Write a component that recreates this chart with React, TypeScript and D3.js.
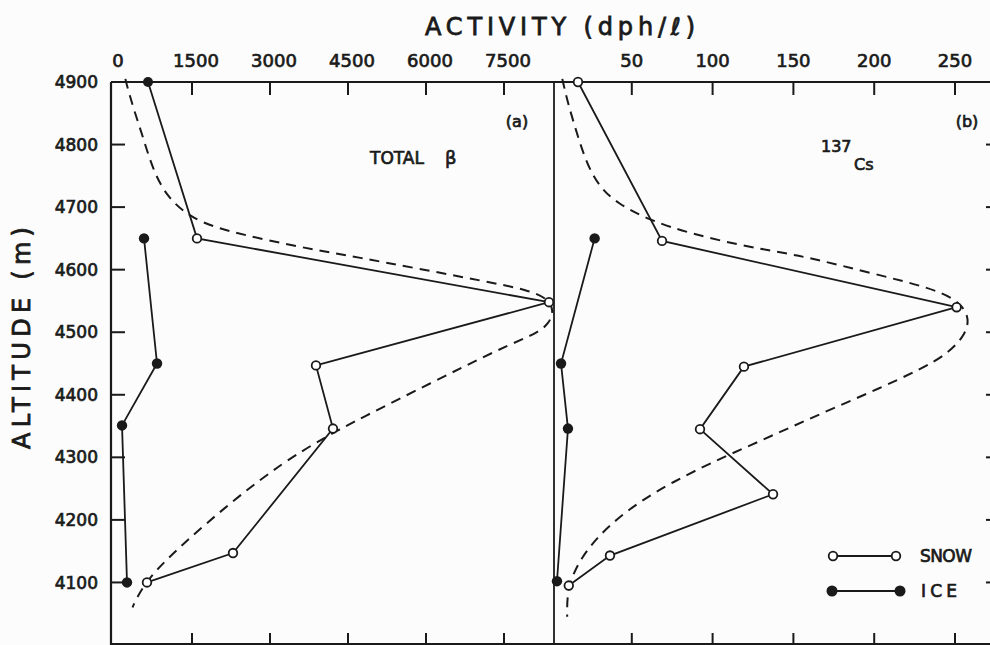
import React from "react";
import { scaleLinear, line, curveBasis } from "d3";

// altitude / activity readings (a) total beta, dph/l
const snowBeta = [
  { alt: 4900, v: 635 },
  { alt: 4650, v: 1577 },
  { alt: 4548, v: 8346 },
  { alt: 4447, v: 3865 },
  { alt: 4346, v: 4192 },
  { alt: 4147, v: 2269 },
  { alt: 4100, v: 615 },
];
const iceBeta = [
  { alt: 4650, v: 558 },
  { alt: 4450, v: 808 },
  { alt: 4351, v: 135 },
  { alt: 4100, v: 231 },
];
const fitBeta = [
  [4905, 200], [4900, 212], [4860, 346], [4812, 538], [4759, 731], [4716, 1000], [4684, 1442],
  [4666, 1962], [4647, 2923], [4631, 3885], [4620, 4654], [4602, 5808], [4582, 7077],
  [4567, 7981], [4553, 8330], [4535, 8440], [4514, 8350], [4498, 8115], [4474, 7404],
  [4418, 6058], [4362, 4712], [4335, 4100], [4292, 3231], [4231, 2269], [4162, 1308],
  [4106, 615], [4063, 346], [4060, 340],
];

// (b) 137Cs
const snowCs = [
  { alt: 4900, v: 16.7 },
  { alt: 4646, v: 68.7 },
  { alt: 4540, v: 251 },
  { alt: 4445, v: 119.4 },
  { alt: 4345, v: 92.2 },
  { alt: 4241, v: 137.4 },
  { alt: 4143, v: 36.5 },
  { alt: 4095, v: 11 },
];
const iceCs = [
  { alt: 4650, v: 27 },
  { alt: 4450, v: 6.2 },
  { alt: 4346, v: 10.5 },
  { alt: 4102, v: 3.7 },
];
const fitCs = [
  [4905, 7], [4900, 7.4], [4866, 10.5], [4818, 16], [4770, 22], [4732, 30], [4706, 41], [4679, 61],
  [4658, 86], [4639, 117], [4626, 146], [4616, 165], [4594, 199], [4572, 233], [4553, 251],
  [4526, 259], [4498, 257], [4466, 246], [4440, 228], [4410, 203], [4380, 176], [4350, 150],
  [4320, 124], [4290, 98], [4260, 75], [4231, 56], [4200, 40], [4170, 28], [4140, 19],
  [4110, 13], [4080, 10], [4050, 10], [4045, 10],
];

const altTicks = [4100, 4200, 4300, 4400, 4500, 4600, 4700, 4800, 4900];
const betaTicks = [0, 1500, 3000, 4500, 6000, 7500];
const csTicks = [50, 100, 150, 200, 250];

const FONT = "'DejaVu Sans', sans-serif";
const INK = "#1a1a1a";

export default function App() {
  const y = scaleLinear().domain([4000, 4900]).range([645, 82]);
  const xL = scaleLinear().domain([0, 7500]).range([115, 505]);
  const xR = scaleLinear().domain([0, 250]).range([551, 955]);
  const left = 111, mid = 554, right = 1000, top = 82, bottom = 645;

  const fitPath = (data, xs) =>
    line().x(d => xs(d[1])).y(d => y(d[0])).curve(curveBasis)(data);
  const dataPath = (data, xs) =>
    line().x(d => xs(d.v)).y(d => y(d.alt))(data);

  const panel = (snow, ice, fit, xs, topFilled) => (
    <g>
      <path d={fitPath(fit, xs)} fill="none" stroke={INK} strokeWidth={2} strokeDasharray="10,7" />
      <path d={dataPath(snow, xs)} fill="none" stroke={INK} strokeWidth={1.8} />
      <path d={dataPath(ice, xs)} fill="none" stroke={INK} strokeWidth={1.8} />
      {snow.map((d, i) => (
        i === 0 && topFilled
          ? <circle key={i} cx={xs(d.v)} cy={y(d.alt)} r={5} fill={INK} />
          : <circle key={i} cx={xs(d.v)} cy={y(d.alt)} r={4.3} fill="white" stroke={INK} strokeWidth={1.8} />
      ))}
      {ice.map((d, i) => (
        <circle key={i} cx={xs(d.v)} cy={y(d.alt)} r={5.2} fill={INK} />
      ))}
    </g>
  );

  const txt = { stroke: INK, strokeWidth: 0.7 };

  return (
    <svg width={990} height={645} style={{ position: "absolute", left: 0, top: 0, background: "#fbfcfb" }}
      fontFamily={FONT} fill={INK}>
      {/* frame */}
      <g stroke={INK} strokeWidth={2.2} fill="none">
        <line x1={left} y1={top} x2={right} y2={top} />
        <line x1={left} y1={top} x2={left} y2={bottom} />
        <line x1={left} y1={bottom - 1} x2={right} y2={bottom - 1} />
        <line x1={mid} y1={top} x2={mid} y2={bottom} strokeWidth={1.8} />
        <line x1={right} y1={top} x2={right} y2={bottom} />
      </g>

      {/* y axis */}
      {altTicks.map(t => (
        <g key={t}>
          <line x1={left} x2={left + 14} y1={y(t)} y2={y(t)} stroke={INK} strokeWidth={2} />
          <line x1={right - 14} x2={right} y1={y(t)} y2={y(t)} stroke={INK} strokeWidth={2} />
          <text x={98} y={y(t)} dy="0.36em" textAnchor="end" fontSize={17} {...txt}>{t}</text>
        </g>
      ))}
      <text transform="translate(30,338) rotate(-90)" textAnchor="middle" fontSize={24}
        textLength={222} lengthAdjust="spacing" stroke={INK} strokeWidth={0.8}>ALTITUDE (m)</text>

      {/* x axes */}
      {betaTicks.map(t => (
        <g key={t}>
          {t > 0 && <line x1={xL(t) - 1} x2={xL(t) - 1} y1={top} y2={top + 13} stroke={INK} strokeWidth={2} />}
          {t > 0 && <line x1={xL(t) - 1} x2={xL(t) - 1} y1={bottom - 12} y2={bottom} stroke={INK} strokeWidth={2} />}
          <text x={xL(t) + 3} y={67} textAnchor="middle" fontSize={18} {...txt}>{t}</text>
        </g>
      ))}
      {csTicks.map(t => (
        <g key={t}>
          <line x1={xR(t)} x2={xR(t)} y1={top} y2={top + 13} stroke={INK} strokeWidth={2} />
          <line x1={xR(t)} x2={xR(t)} y1={bottom - 12} y2={bottom} stroke={INK} strokeWidth={2} />
          <text x={xR(t)} y={67} textAnchor="middle" fontSize={18} {...txt}>{t}</text>
        </g>
      ))}
      <text x={425} y={35} fontSize={24} textLength={270} lengthAdjust="spacing"
        stroke={INK} strokeWidth={0.8}>ACTIVITY (dph/ℓ)</text>

      {panel(snowBeta, iceBeta, fitBeta, xL, true)}
      {panel(snowCs, iceCs, fitCs, xR, false)}

      {/* panel labels */}
      <text x={517} y={127} textAnchor="middle" fontSize={16} {...txt}>(a)</text>
      <text x={967} y={127} textAnchor="middle" fontSize={16} {...txt}>(b)</text>
      <text x={370} y={164} fontSize={17} {...txt}>TOTAL</text>
      <text x={445} y={164} fontSize={18} {...txt}>β</text>
      <text x={821} y={152} fontSize={16} {...txt}>137</text>
      <text x={854} y={170} fontSize={16} {...txt}>Cs</text>

      {/* legend */}
      <line x1={833} x2={896} y1={556} y2={556} stroke={INK} strokeWidth={1.8} />
      <circle cx={833} cy={556} r={4.3} fill="white" stroke={INK} strokeWidth={1.8} />
      <circle cx={896} cy={556} r={4.3} fill="white" stroke={INK} strokeWidth={1.8} />
      <text x={920} y={556} dy="0.36em" fontSize={17} textLength={52} lengthAdjust="spacing" {...txt}>SNOW</text>
      <line x1={832} x2={900} y1={591} y2={591} stroke={INK} strokeWidth={1.8} />
      <circle cx={832} cy={591} r={5.5} fill={INK} />
      <circle cx={900} cy={591} r={5.5} fill={INK} />
      <text x={921} y={591} dy="0.36em" fontSize={17} textLength={36} lengthAdjust="spacing" {...txt}>ICE</text>
    </svg>
  );
}
